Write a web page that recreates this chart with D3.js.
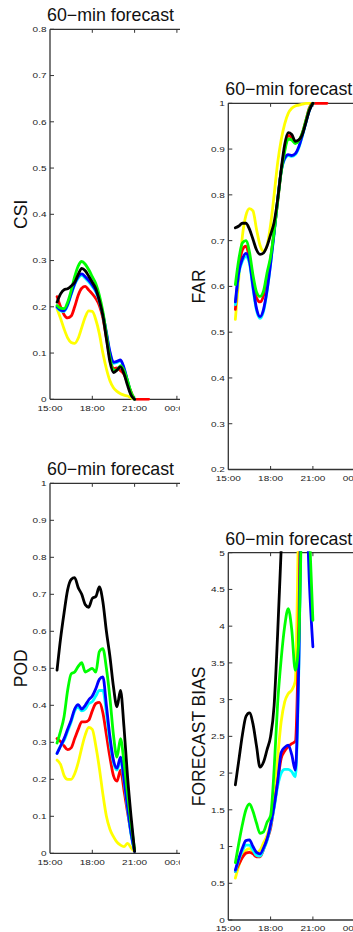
<!DOCTYPE html>
<html><head><meta charset="utf-8">
<script src="https://cdn.jsdelivr.net/npm/d3@7"></script>
<style>html,body{margin:0;padding:0;background:#fff;overflow:hidden}svg{display:block}</style>
</head><body>
<svg id="chart" width="353" height="932"></svg>
<script>
// ---------- DATA ----------
const hours = [15.5,15.75,16,16.25,16.5,16.75,17,17.25,17.5,17.75,18,18.25,18.5,18.75,19,19.25,19.5,19.75,20,20.25,20.5,20.75,21,21.25,21.5,21.75,22];
const xTickHours = [15,18,21,24];
const xTickLabels = ["15:00","18:00","21:00","00:00"];
const seriesOrder = ["yellow","red","cyan","blue","green","black"];

// CSI
const csiYellow = [0.196,0.175,0.152,0.133,0.123,0.121,0.132,0.155,0.178,0.191,0.19,0.172,0.142,0.1,0.066,0.04,0.025,0.017,0.012,0.009,0.007,0.003,0];
const csiRed    = [0.222,0.2,0.183,0.176,0.18,0.2,0.225,0.24,0.244,0.236,0.228,0.218,0.203,0.176,0.133,0.09,0.066,0.068,0.062,0.054,0.035,0.016,0,0,0,0,0];
const csiCyan   = [0.198,0.191,0.19,0.203,0.226,0.248,0.262,0.268,0.262,0.254,0.244,0.232,0.212,0.182,0.142,0.1,0.078,0.08,0.083,0.066,0.038,0.01,0];
const csiBlue   = [0.2,0.193,0.192,0.205,0.228,0.25,0.265,0.271,0.265,0.257,0.247,0.235,0.215,0.185,0.145,0.103,0.08,0.082,0.085,0.068,0.04,0.012,0];
const csiGreen  = [0.203,0.197,0.196,0.21,0.235,0.265,0.288,0.298,0.292,0.28,0.265,0.25,0.225,0.19,0.14,0.09,0.063,0.063,0.073,0.062,0.04,0.015,0];
const csiBlack  = [0.21,0.228,0.237,0.239,0.245,0.253,0.27,0.283,0.278,0.266,0.253,0.239,0.214,0.181,0.131,0.081,0.058,0.063,0.07,0.055,0.03,0.009,0];
const csiTicks = [0,0.1,0.2,0.3,0.4,0.5,0.6,0.7,0.8];
const csiTickLabels = ["0","0.1","0.2","0.3","0.4","0.5","0.6","0.7","0.8"];

// FAR
const farYellow = [0.528,0.62,0.71,0.755,0.77,0.765,0.725,0.69,0.677,0.69,0.735,0.8,0.87,0.92,0.955,0.978,0.989,0.994,0.996,0.998,1,1,1];
const farRed    = [0.55,0.635,0.68,0.688,0.66,0.61,0.575,0.566,0.58,0.62,0.66,0.72,0.785,0.852,0.9,0.93,0.925,0.915,0.918,0.935,0.962,0.99,1,1,1,1,1];
const farCyan   = [0.56,0.628,0.655,0.665,0.65,0.595,0.548,0.53,0.546,0.59,0.648,0.715,0.788,0.85,0.878,0.886,0.884,0.888,0.903,0.928,0.957,0.984,1];
const farBlue   = [0.566,0.632,0.66,0.672,0.655,0.6,0.552,0.534,0.55,0.592,0.65,0.717,0.79,0.852,0.88,0.888,0.886,0.89,0.905,0.93,0.958,0.985,1];
const farGreen  = [0.604,0.66,0.695,0.7,0.675,0.625,0.588,0.578,0.59,0.63,0.665,0.72,0.785,0.85,0.895,0.922,0.92,0.912,0.918,0.935,0.962,0.988,1];
const farBlack  = [0.728,0.732,0.738,0.738,0.725,0.703,0.68,0.67,0.673,0.688,0.713,0.74,0.79,0.855,0.91,0.936,0.932,0.917,0.92,0.932,0.958,0.985,1];
const farTicks = [0.2,0.3,0.4,0.5,0.6,0.7,0.8,0.9,1];
const farTickLabels = ["0.2","0.3","0.4","0.5","0.6","0.7","0.8","0.9","1"];

// POD
const podYellow = [0.252,0.24,0.21,0.2,0.2,0.215,0.245,0.285,0.32,0.34,0.335,0.29,0.23,0.16,0.1,0.065,0.045,0.03,0.022,0.018,0.027,0.015,0.005];
const podRed    = [0.31,0.302,0.29,0.28,0.285,0.31,0.335,0.355,0.355,0.36,0.385,0.405,0.408,0.38,0.32,0.26,0.21,0.195,0.225,0.17,0.11,0.055,0.005];
const podCyan   = [0.27,0.29,0.305,0.33,0.355,0.385,0.395,0.385,0.39,0.405,0.41,0.425,0.44,0.44,0.38,0.3,0.245,0.225,0.25,0.195,0.12,0.05,0.005];
const podBlue   = [0.27,0.29,0.31,0.335,0.36,0.39,0.402,0.39,0.4,0.415,0.425,0.445,0.47,0.477,0.4,0.315,0.252,0.23,0.26,0.2,0.125,0.055,0.005];
const podGreen  = [0.298,0.33,0.37,0.44,0.485,0.49,0.505,0.515,0.49,0.495,0.5,0.49,0.545,0.553,0.5,0.42,0.32,0.26,0.31,0.245,0.16,0.08,0.01];
const podBlack  = [0.495,0.58,0.65,0.712,0.74,0.745,0.718,0.7,0.672,0.665,0.689,0.694,0.72,0.68,0.6,0.532,0.45,0.396,0.44,0.34,0.207,0.099,0.005];
const podTicks = [0,0.1,0.2,0.3,0.4,0.5,0.6,0.7,0.8,0.9,1];
const podTickLabels = ["0","0.1","0.2","0.3","0.4","0.5","0.6","0.7","0.8","0.9","1"];

// FORECAST BIAS
const biasYellow = [0.57,0.74,0.88,0.95,0.97,0.93,0.92,0.95,1.05,1.15,1.32,1.6,2.2,2.7,2.97,3.08,3.13,3.25,5.6,8];
const biasRed    = [0.66,0.76,0.85,0.91,0.92,0.9,0.86,0.86,0.96,1.1,1.25,1.55,1.88,2.2,2.3,2.36,2.4,2.43,4.0,7.0];
const biasCyan   = [0.66,0.82,0.94,1.02,1.02,0.95,0.88,0.87,0.96,1.08,1.28,1.52,1.82,2.0,2.05,2.05,2.02,1.95,3.4,6.5];
const biasBlue   = [0.68,0.84,0.98,1.08,1.09,1.0,0.92,0.9,0.98,1.1,1.3,1.55,1.88,2.28,2.35,2.38,2.25,2.04,3.5,6.5,6.0,4.6,3.72];
const biasGreen  = [0.78,1.05,1.3,1.5,1.58,1.48,1.32,1.18,1.2,1.33,1.42,2.05,2.95,3.55,4.0,4.24,3.95,3.4,3.8,6.0,7.0,5.3,4.08];
const biasBlack  = [1.84,2.18,2.52,2.77,2.82,2.67,2.37,2.08,2.15,2.32,2.5,2.92,3.9,5.05,6.2];
const biasTicks = [0,0.5,1,1.5,2,2.5,3,3.5,4,4.5,5];
const biasTickLabels = ["0","0.5","1","1.5","2","2.5","3","3.5","4","4.5","5"];

// ---------- STYLE / LAYOUT ----------
const colors = {yellow:"#ffff00", red:"#ff0000", cyan:"#00ffff", blue:"#0000ff", green:"#00ff00", black:"#000000"};
const FONT = "'Liberation Sans', Arial, Helvetica, sans-serif";
const pxPerHour = 14.1;

const panels = [
  {key:"csi", label:"CSI", values:{yellow:csiYellow, red:csiRed, cyan:csiCyan, blue:csiBlue, green:csiGreen, black:csiBlack},
   yDomain:[0,0.8], ticks:csiTicks, tickLabels:csiTickLabels, axisX:50, top:29.3, bottom:399.3, right:180},
  {key:"far", label:"FAR", values:{yellow:farYellow, red:farRed, cyan:farCyan, blue:farBlue, green:farGreen, black:farBlack},
   yDomain:[0.2,1], ticks:farTicks, tickLabels:farTickLabels, axisX:228.3, top:103.3, bottom:469.5, right:353},
  {key:"pod", label:"POD", values:{yellow:podYellow, red:podRed, cyan:podCyan, blue:podBlue, green:podGreen, black:podBlack},
   yDomain:[0,1], ticks:podTicks, tickLabels:podTickLabels, axisX:50, top:483.3, bottom:853.3, right:180},
  {key:"bias", label:"FORECAST BIAS", values:{yellow:biasYellow, red:biasRed, cyan:biasCyan, blue:biasBlue, green:biasGreen, black:biasBlack},
   yDomain:[0,5], ticks:biasTicks, tickLabels:biasTickLabels, axisX:228.3, top:552.7, bottom:920, right:353}
];

const svg = d3.select("#chart");
const defs = svg.append("defs");

panels.forEach(p => {
  const x = d3.scaleLinear().domain([15, 27]).range([p.axisX, p.axisX + pxPerHour * 12]);
  const y = d3.scaleLinear().domain(p.yDomain).range([p.bottom, p.top]);

  defs.append("clipPath").attr("id", "pc-" + p.key)
    .append("rect").attr("x", 0).attr("y", p.top - 40).attr("width", p.right).attr("height", p.bottom - p.top + 60);
  defs.append("clipPath").attr("id", "dc-" + p.key)
    .append("rect").attr("x", p.axisX).attr("y", p.top - 1.5).attr("width", p.right - p.axisX).attr("height", p.bottom - p.top + 3);

  const g = svg.append("g").attr("clip-path", `url(#pc-${p.key})`);

  g.append("text").attr("x", p.axisX - 3).attr("y", p.top - 8)
    .attr("font-family", FONT).attr("font-size", 17.8).attr("fill", "#111")
    .text("60\u2212min forecast");

  const axisColor = "#333";
  g.append("line").attr("x1", p.axisX).attr("x2", p.axisX).attr("y1", p.top).attr("y2", p.bottom)
    .attr("stroke", axisColor).attr("stroke-width", 1.3);
  g.append("line").attr("x1", p.axisX).attr("x2", p.right + 20).attr("y1", p.top).attr("y2", p.top)
    .attr("stroke", axisColor).attr("stroke-width", 1.3);
  g.append("line").attr("x1", p.axisX).attr("x2", p.right + 20).attr("y1", p.bottom).attr("y2", p.bottom)
    .attr("stroke", axisColor).attr("stroke-width", 1.3);

  p.ticks.forEach((t, i) => {
    g.append("line").attr("x1", p.axisX).attr("x2", p.axisX + 4).attr("y1", y(t)).attr("y2", y(t))
      .attr("stroke", axisColor).attr("stroke-width", 1);
    g.append("text").attr("transform", `translate(${p.axisX - 3.5},${y(t)}) scale(1,0.8)`)
      .attr("text-anchor", "end").attr("dy", "0.36em")
      .attr("font-family", FONT).attr("font-size", 10).attr("fill", "#222")
      .text(p.tickLabels[i]);
  });

  xTickHours.forEach((h, i) => {
    const xx = x(h);
    if (i > 0) {
      g.append("line").attr("x1", xx).attr("x2", xx).attr("y1", p.top).attr("y2", p.top + 3.5)
        .attr("stroke", axisColor).attr("stroke-width", 1);
      g.append("line").attr("x1", xx).attr("x2", xx).attr("y1", p.bottom).attr("y2", p.bottom - 3.5)
        .attr("stroke", axisColor).attr("stroke-width", 1);
    }
    g.append("text").attr("transform", `translate(${xx},${p.bottom + 11.3}) scale(1,0.8)`)
      .attr("text-anchor", "middle")
      .attr("font-family", FONT).attr("font-size", 10).attr("fill", "#222")
      .text(xTickLabels[i]);
  });

  g.append("text").attr("transform", `translate(${p.axisX - 23.3},${(p.top + p.bottom) / 2}) rotate(-90)`)
    .attr("text-anchor", "middle")
    .attr("font-family", FONT).attr("font-size", 17.5).attr("fill", "#111")
    .text(p.label);

  const dg = svg.append("g").attr("clip-path", `url(#dc-${p.key})`);
  const line = d3.line().x(d => x(d.h)).y(d => y(d.v)).curve(d3.curveMonotoneX);
  seriesOrder.forEach(name => {
    const vals = p.values[name];
    const pts = vals.map((v, i) => ({h: hours[i], v}));
    dg.append("path").datum(pts).attr("d", line)
      .attr("fill", "none").attr("stroke", colors[name]).attr("stroke-width", 2.8)
      .attr("stroke-linejoin", "round").attr("stroke-linecap", "round");
  });
});
</script>
</body></html>
